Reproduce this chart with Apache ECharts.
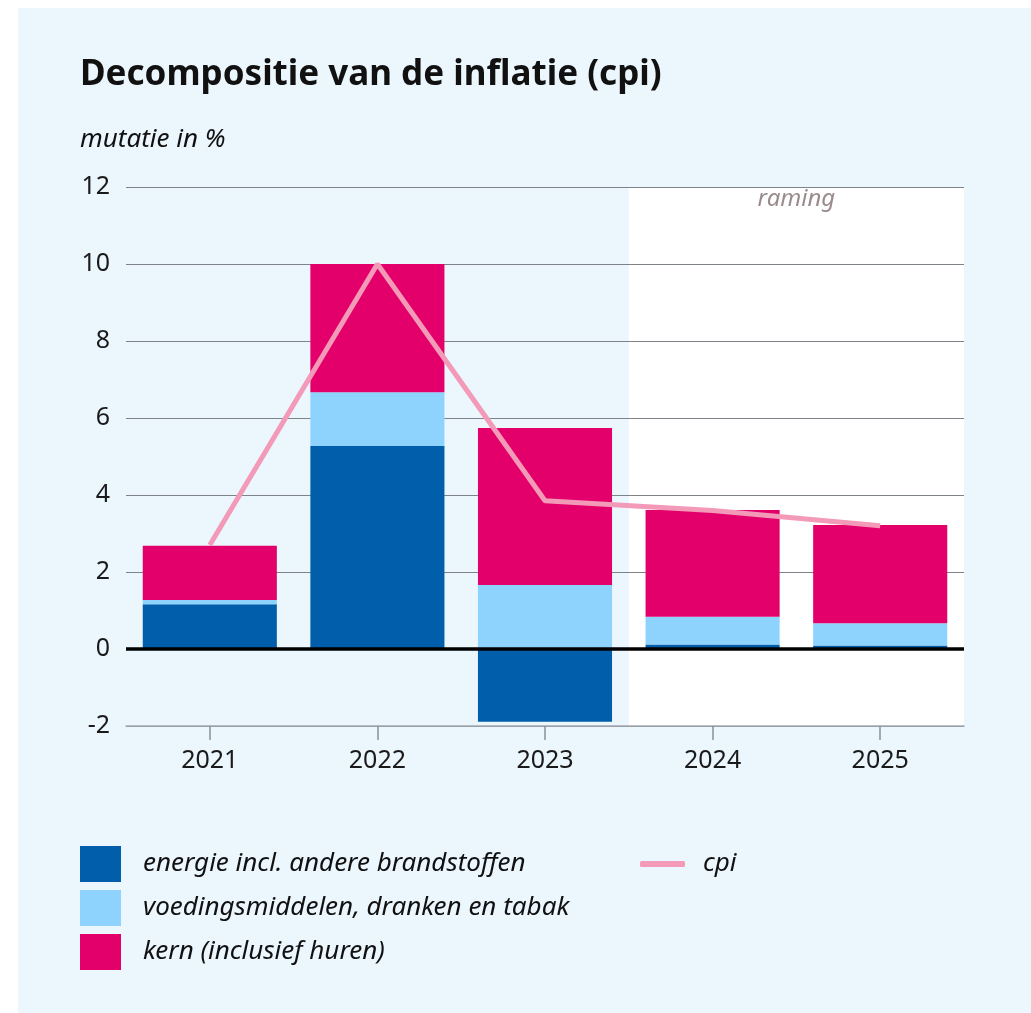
<!DOCTYPE html>
<html>
<head>
<meta charset="utf-8">
<script src="https://cdn.jsdelivr.net/npm/echarts@6/dist/echarts.min.js"></script>
<style>
  html, body { margin: 0; padding: 0; background: #ffffff; }
  #panel { position: absolute; left: 18px; top: 8px; width: 1013px; height: 1005px; background: #ebf6fd; }
  #chart { width: 1013px; height: 1005px; }
</style>
</head>
<body>
<div id="panel"><div id="chart"></div></div>
<script>
// Data
const years = ['2021', '2022', '2023', '2024', '2025'];
const energie = [1.16, 5.27, -1.89, 0.12, 0.09];
const voeding = [0.11, 1.40, 1.66, 0.72, 0.58];
const kern = [1.41, 3.33, 4.08, 2.77, 2.55];
const cpi = [2.7, 10.0, 3.85, 3.6, 3.2];
const yTicks = [-2, 0, 2, 4, 6, 8, 10, 12];
// 'raming' (forecast) band: from halfway 2023–2024 to the right edge, in category index units
const forecastRange = [2.5, 4.5];

const names = {
  energie: 'energie incl. andere brandstoffen',
  voeding: 'voedingsmiddelen, dranken en tabak',
  kern: 'kern (inclusief huren)',
  cpi: 'cpi'
};
const FONT = '"Noto Sans", "Open Sans", sans-serif';

const chart = echarts.init(document.getElementById('chart'), null, { renderer: 'canvas' });

const option = {
  backgroundColor: 'transparent',
  animation: false,
  textStyle: { fontFamily: FONT },
  title: [
    {
      text: 'Decompositie van de inflatie (cpi)',
      left: 62, top: 46,
      padding: 0,
      textStyle: { fontFamily: FONT, fontSize: 35, fontWeight: 'bold', color: '#111111', lineHeight: 42 }
    },
    {
      text: 'mutatie in %',
      left: 62, top: 116,
      padding: 0,
      textStyle: { fontFamily: FONT, fontSize: 26, fontStyle: 'italic', fontWeight: 'normal', color: '#111111', lineHeight: 32 }
    }
  ],
  legend: [
    {
      orient: 'vertical',
      left: 62, top: 838,
      padding: 0,
      itemWidth: 41, itemHeight: 36, itemGap: 8,
      icon: 'rect',
      data: [names.energie, names.voeding, names.kern],
      textStyle: { fontFamily: FONT, fontSize: 26, fontStyle: 'italic', color: '#111111', padding: [0, 0, 0, 17] }
    },
    {
      orient: 'vertical',
      left: 622, top: 838,
      padding: 0,
      itemWidth: 45, itemHeight: 6,
      data: [{ name: names.cpi, icon: 'roundRect', itemStyle: { color: '#f39ab8' } }],
      textStyle: { fontFamily: FONT, fontSize: 26, fontStyle: 'italic', color: '#111111', padding: [0, 0, 0, 13], lineHeight: 36 }
    }
  ],
  grid: { left: 108, right: 67, top: 179, bottom: 287, containLabel: false },
  xAxis: [
    {
      type: 'category',
      data: years,
      z: 2,
      axisLine: { show: true, onZero: false, lineStyle: { color: '#a3abb3', width: 1.5 } },
      axisTick: { show: true, alignWithLabel: true, length: 14, lineStyle: { color: '#8a9096', width: 1.5 } },
      axisLabel: { fontFamily: FONT, fontSize: 25, color: '#1a1a1a', margin: 22 },
      splitLine: { show: false }
    },
    {
      type: 'value',
      min: -0.5, max: 4.5,
      show: false
    }
  ],
  yAxis: {
    type: 'value',
    min: -2, max: 12, interval: 2,
    z: 2,
    axisLine: { show: false },
    axisTick: { show: false },
    axisLabel: {
      fontFamily: FONT, fontSize: 25, color: '#1a1a1a', margin: 16,
      formatter: function (v) { return yTicks.indexOf(v) >= 0 ? String(v) : ''; }
    },
    splitLine: { show: true, lineStyle: { color: '#7d8388', width: 1.2 } }
  },
  series: [
    {
      name: 'forecast',
      type: 'line',
      xAxisIndex: 1,
      yAxisIndex: 0,
      data: [],
      silent: true,
      markArea: {
        silent: true,
        itemStyle: { color: '#ffffff' },
        label: {
          show: true, position: 'insideTop', distance: 0,
          formatter: 'raming',
          fontFamily: FONT, fontSize: 24, fontStyle: 'italic', color: '#9a8c8d'
        },
        data: [[{ xAxis: forecastRange[0] }, { xAxis: forecastRange[1] }]]
      }
    },
    {
      name: names.energie,
      type: 'bar',
      stack: 'total',
      z: 3,
      barCategoryGap: '20%',
      itemStyle: { color: '#015eab' },
      data: energie,
      markLine: {
        silent: true,
        symbol: ['none', 'none'],
        label: { show: false },
        lineStyle: { color: '#000000', width: 3.5, type: 'solid' },
        data: [{ yAxis: 0 }]
      }
    },
    {
      name: names.voeding,
      type: 'bar',
      stack: 'total',
      z: 3,
      itemStyle: { color: '#8dd3fe' },
      data: voeding
    },
    {
      name: names.kern,
      type: 'bar',
      stack: 'total',
      z: 3,
      itemStyle: { color: '#e3006a' },
      data: kern
    },
    {
      name: names.cpi,
      type: 'line',
      z: 6,
      symbol: 'none',
      lineStyle: { color: '#f39ab8', width: 5 },
      itemStyle: { color: '#f39ab8' },
      data: cpi
    }
  ]
};

chart.setOption(option);
</script>
</body>
</html>
